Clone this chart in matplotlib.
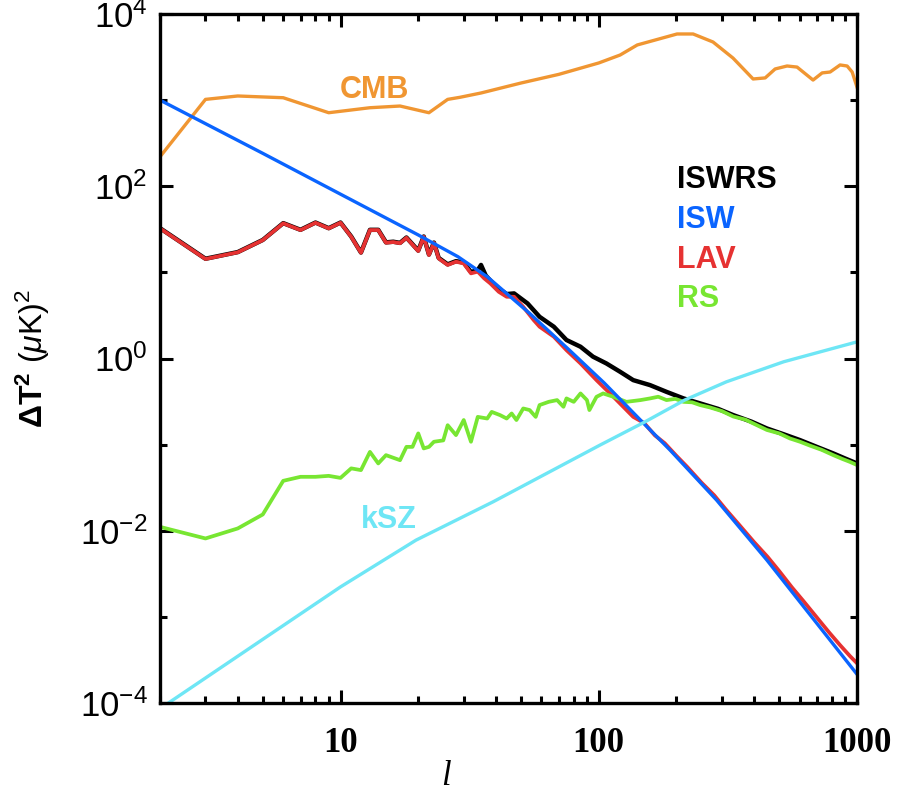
import numpy as np
import matplotlib
matplotlib.use("Agg")
import matplotlib.pyplot as plt
from matplotlib.ticker import FixedLocator, LogLocator, NullFormatter

# CMB
cmb_l = [2, 3, 4, 6, 9, 13, 17, 22, 26, 29, 35, 50, 70, 100, 121, 141, 201, 232,
         277, 331, 396, 441, 482, 536, 586, 676, 733, 787, 860, 916, 958, 1000]
cmb_y = [220, 1020, 1117, 1066, 714, 816, 854, 714, 1020, 1078, 1210, 1580, 1990,
         2700, 3340, 4370, 5860, 5860, 4730, 3080, 1760, 1810, 2300, 2490, 2420,
         1710, 2070, 2120, 2560, 2490, 2120, 1420]

# ISW (smooth)
isw_l = [2, 5, 10, 20, 28.5, 37, 54, 77, 105, 145, 189, 286, 448, 1000]
isw_y = [1000, 241, 80.9, 27.2, 15.2, 8.9, 3.34, 1.25, 0.52, 0.193, 0.0863,
         0.0227, 0.00456, 2.16e-4]

# LAV
lav_l = [2, 3, 4, 5, 6, 7, 8, 9, 10, 11, 12, 13, 14, 15, 16, 17, 18, 20, 21, 22,
         23, 24, 26, 28, 30, 32, 34, 36, 38, 41, 44, 47, 51, 56, 59, 67, 75, 85,
         98, 114, 136, 150, 165, 180, 200, 220, 250, 280, 310, 350, 400, 450, 500,
         560, 620, 700, 780, 860, 940, 1000]
lav_y = [32.4, 14.3, 17.1, 23.7, 37.1, 31.0, 37.7, 32.4, 37.7, 25.9, 16.9, 31.0,
         31.0, 22.1, 22.5, 21.8, 25.2, 17.7, 25.9, 15.9, 22.0, 14.5, 12.2, 13.3,
         12.7, 9.74, 10.2, 8.52, 7.46, 5.95, 5.21, 5.21, 3.98, 2.79, 2.34, 1.79,
         1.25, 0.877, 0.561, 0.359, 0.210, 0.178, 0.128, 0.104, 0.074, 0.0552,
         0.0362, 0.0258, 0.0178, 0.0117, 0.00735, 0.0050, 0.0034, 0.0022, 0.00153,
         0.00098, 0.00066, 0.00047, 0.00035, 0.00029]

# ISWRS (same as LAV at low l)
iswrs_l = [2, 3, 4, 5, 6, 7, 8, 9, 10, 11, 12, 13, 14, 15, 16, 17, 18, 20, 21, 22,
           23, 24, 26, 28, 30, 32, 34, 35, 36.5, 40, 44, 47, 53, 59, 67, 75, 85, 95,
           107, 121, 136, 158, 183, 213, 247, 290, 332, 390, 448, 520, 602, 700,
           810, 900, 1000]
iswrs_y = [32.6, 14.4, 17.2, 23.8, 37.3, 31.2, 37.9, 32.6, 37.9, 26.1, 17.0, 31.2,
           31.2, 22.3, 22.7, 22.0, 25.4, 17.9, 26.1, 16.1, 22.2, 14.7, 12.4, 13.5,
           13.0, 10.1, 10.6, 12.2, 9.2, 6.8, 5.6, 5.70, 4.36, 3.05, 2.34, 1.64,
           1.37, 1.05, 0.877, 0.701, 0.561, 0.491, 0.410, 0.344, 0.301, 0.26,
           0.220, 0.185, 0.154, 0.132, 0.1128, 0.094, 0.0790, 0.069, 0.0605]

# RS
rs_l = [2, 3, 4, 5, 6, 7, 8, 9, 10, 11, 12, 13, 14, 15, 17, 18, 19, 20, 21, 22, 23,
        25, 26, 28, 30, 32, 34, 37, 38.5, 41.5, 44, 46, 48, 51, 54, 57, 59, 64, 69,
        73, 75, 80, 85, 90, 92, 98, 104, 114, 128, 145, 158, 170, 183, 198, 213,
        230, 247, 270, 300, 332, 370, 410, 448, 500, 550, 602, 660, 730, 810, 880,
        940, 1000]
rs_y = [0.0111, 0.00814, 0.01064, 0.01546, 0.038, 0.0423, 0.0423, 0.0434, 0.0411,
        0.0530, 0.0506, 0.0824, 0.0605, 0.0755, 0.066, 0.0942, 0.0942, 0.135,
        0.0904, 0.0942, 0.108, 0.112, 0.168, 0.129, 0.193, 0.108, 0.210, 0.201,
        0.240, 0.220, 0.201, 0.230, 0.193, 0.263, 0.252, 0.210, 0.288, 0.314,
        0.329, 0.275, 0.344, 0.314, 0.393, 0.329, 0.252, 0.359, 0.393, 0.359,
        0.314, 0.329, 0.344, 0.36, 0.329, 0.34, 0.314, 0.31, 0.288, 0.27, 0.245,
        0.212, 0.195, 0.168, 0.148, 0.135, 0.118, 0.108, 0.097, 0.087, 0.0755,
        0.068, 0.063, 0.058]

# kSZ (smooth)
ksz_l = [2, 10, 19.6, 39, 101, 149, 215, 312, 520, 1000]
ksz_y = [8.6e-5, 0.00223, 0.00778, 0.0217, 0.0986, 0.18, 0.329, 0.536, 0.916, 1.56]

c_cmb = '#F09632'
c_isw = '#0A64FF'
c_lav = '#E63232'
c_rs = '#78E632'
c_ksz = '#6EE6F5'

plt.rcParams['font.family'] = ['Liberation Sans', 'DejaVu Sans']
plt.rcParams['mathtext.fontset'] = 'custom'
plt.rcParams['mathtext.rm'] = 'Liberation Sans'
plt.rcParams['mathtext.it'] = 'Liberation Sans:italic'
plt.rcParams['mathtext.bf'] = 'Liberation Sans:bold'

fig = plt.figure(figsize=(9, 7.95), dpi=100)
ax = fig.add_axes([0.1778, 0.1157, 0.7744, 0.8667])

lw = 2.4
ax.plot(cmb_l, cmb_y, color=c_cmb, lw=lw)
ax.plot(iswrs_l, iswrs_y, color='black', lw=lw + 0.8)
ax.plot(lav_l, lav_y, color=c_lav, lw=lw + 0.3)
ax.plot(rs_l, rs_y, color=c_rs, lw=lw + 0.3)
ax.plot(isw_l, isw_y, color=c_isw, lw=lw)
ax.plot(ksz_l, ksz_y, color=c_ksz, lw=lw)

ax.set_xscale('log')
ax.set_yscale('log')
ax.set_xlim(2, 1000)
ax.set_ylim(1e-4, 1e4)

for s in ax.spines.values():
    s.set_linewidth(2.4)

ax.set_xticks([10, 100, 1000], labels=['10', '100', '1000'])
ax.xaxis.set_minor_locator(LogLocator(base=10, subs=np.arange(2, 10)))
ax.xaxis.set_minor_formatter(NullFormatter())
ax.set_yticks([1e-4, 1e-2, 1, 1e2, 1e4],
              labels=[r'10$^{-4}$', r'10$^{-2}$', r'10$^{0}$', r'10$^{2}$', r'10$^{4}$'])
ax.yaxis.set_minor_locator(FixedLocator([1e-3, 1e-1, 10, 1e3]))
ax.yaxis.set_minor_formatter(NullFormatter())

ax.tick_params(which='both', direction='in', top=True, right=True, width=2.2)
ax.tick_params(which='major', length=9.5)
ax.tick_params(which='minor', length=5)
ax.tick_params(axis='x', which='major', pad=17)
ax.tick_params(axis='y', which='major', pad=9, labelsize=25)
for lbl in ax.get_xticklabels():
    lbl.set_fontfamily('Liberation Serif')
    lbl.set_fontweight('bold')
    lbl.set_fontsize(25)

ax.set_xlabel('l', fontfamily='Liberation Serif', fontstyle='italic', fontsize=25)
ax.xaxis.set_label_coords(0.41, -0.083)
ax.set_ylabel(r'$\mathbf{\Delta T}^{\mathbf{2}}\ (\mu\mathrm{K})^2$', fontsize=23)
ax.yaxis.set_label_coords(-0.155, 0.5)

fs = 22
ax.text(13.5, 1310, 'CMB', color=c_cmb, fontsize=fs, fontweight='bold',
        ha='center', va='center')
ax.text(201, 118, 'ISWRS', color='black', fontsize=fs, fontweight='bold',
        ha='left', va='center')
ax.text(201, 40.5, 'ISW', color=c_isw, fontsize=fs, fontweight='bold',
        ha='left', va='center')
ax.text(201, 14.1, 'LAV', color=c_lav, fontsize=fs, fontweight='bold',
        ha='left', va='center')
ax.text(201, 4.96, 'RS', color=c_rs, fontsize=fs, fontweight='bold',
        ha='left', va='center')
ax.text(15.4, 0.0133, 'kSZ', color=c_ksz, fontsize=fs, fontweight='bold',
        ha='center', va='center')

fig.savefig('out.png', dpi=100)
